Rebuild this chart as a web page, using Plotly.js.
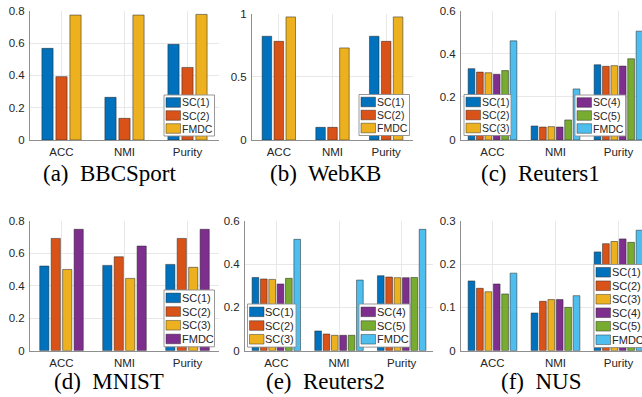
<!DOCTYPE html>
<html><head><meta charset="utf-8">
<script src="https://cdn.plot.ly/plotly-3.0.1.min.js"></script>
<style>html,body{margin:0;padding:0;overflow:hidden;background:#fff;width:642px;height:397px}#chart{width:660px;height:397px}</style>
</head><body><div id="chart"></div>
<script>
// ---------------- data ----------------
const categories = ['ACC', 'NMI', 'Purity'];

const bbcsportNames = ['SC(1)', 'SC(2)', 'FMDC'];
const bbcsportValues = [
  [0.567, 0.264, 0.592],
  [0.392, 0.134, 0.449],
  [0.773, 0.773, 0.777]
];

const webkbNames = ['SC(1)', 'SC(2)', 'FMDC'];
const webkbValues = [
  [0.820, 0.100, 0.820],
  [0.780, 0.100, 0.780],
  [0.973, 0.728, 0.973]
];

const reuters1Names = ['SC(1)', 'SC(2)', 'SC(3)', 'SC(4)', 'SC(5)', 'FMDC'];
const reuters1Values = [
  [0.331, 0.065, 0.349],
  [0.315, 0.060, 0.342],
  [0.312, 0.062, 0.345],
  [0.305, 0.060, 0.343],
  [0.322, 0.093, 0.377],
  [0.460, 0.237, 0.505]
];

const mnistNames = ['SC(1)', 'SC(2)', 'SC(3)', 'FMDC'];
const mnistValues = [
  [0.521, 0.525, 0.531],
  [0.691, 0.578, 0.691],
  [0.500, 0.445, 0.513],
  [0.747, 0.644, 0.747]
];

const reuters2Names = ['SC(1)', 'SC(2)', 'SC(3)', 'SC(4)', 'SC(5)', 'FMDC'];
const reuters2Values = [
  [0.338, 0.091, 0.346],
  [0.331, 0.077, 0.340],
  [0.329, 0.071, 0.337],
  [0.308, 0.071, 0.337],
  [0.334, 0.071, 0.338],
  [0.514, 0.326, 0.560]
];

const nusNames = ['SC(1)', 'SC(2)', 'SC(3)', 'SC(4)', 'SC(5)', 'FMDC'];
const nusValues = [
  [0.161, 0.087, 0.228],
  [0.144, 0.114, 0.247],
  [0.136, 0.118, 0.252],
  [0.154, 0.118, 0.258],
  [0.131, 0.100, 0.250],
  [0.179, 0.127, 0.278]
];

const panelTitles = ['(a)\u00a0 BBCSport', '(b)\u00a0 WebKB', '(c)\u00a0 Reuters1',
                     '(d)\u00a0 MNIST', '(e)\u00a0 Reuters2', '(f)\u00a0 NUS'];

const seriesColors = ['#0072BD', '#D95319', '#EDB120', '#7E2F8E', '#77AC30', '#4DBEEE'];

// ---------------- layout config (pixels) ----------------
const W = 660, H = 397;
const panels = [
  {names: bbcsportNames, values: bbcsportValues, ymax: 0.8, dtick: 0.2, box: [30, 219, 10.7, 140], tx: 110, ty: 173,
   legends: [{items: [0,1,2], left: 164, top: 95, width: 50.5, pitch: 13, fs: 10.5}]},
  {names: webkbNames, values: webkbValues, ymax: 1, dtick: 0.5, box: [252, 413, 13.5, 140], tx: 325, ty: 173,
   legends: [{items: [0,1,2], left: 359, top: 94.5, width: 50.5, pitch: 13, fs: 10.5}]},
  {names: reuters1Names, values: reuters1Values, ymax: 0.6, dtick: 0.2, box: [461, 650, 10.7, 140], tx: 540, ty: 173,
   legends: [{items: [0,1,2], left: 464, top: 94.5, width: 47, pitch: 13, fs: 10.5},
             {items: [3,4,5], left: 575, top: 95, width: 50.7, pitch: 13, fs: 10.5}]},
  {names: mnistNames, values: mnistValues, ymax: 0.8, dtick: 0.2, box: [30, 219, 220.7, 350.7], tx: 109, ty: 381,
   legends: [{items: [0,1,2,3], left: 164, top: 290, width: 50.5, pitch: 13.7, fs: 11}]},
  {names: reuters2Names, values: reuters2Values, ymax: 0.6, dtick: 0.2, box: [245, 433, 220.7, 350.7], tx: 325, ty: 381,
   legends: [{items: [0,1,2], left: 247.5, top: 304, width: 48.5, pitch: 13.7, fs: 11},
             {items: [3,4,5], left: 359, top: 304, width: 51, pitch: 13.7, fs: 11}]},
  {names: nusNames, values: nusValues, ymax: 0.3, dtick: 0.1, box: [461, 650, 220.7, 350.7], tx: 541, ty: 381,
   legends: [{items: [0,1,2,3,4,5], left: 594, top: 264.5, width: 52, pitch: 13.5, fs: 11}]}
];

const tickFont = {family: 'Liberation Sans, Arial, sans-serif', size: 11.5, color: '#262626'};
const titleFont = {family: 'Liberation Serif, Times New Roman, serif', size: 23, color: '#000'};
const gridColor = '#e8e8e8';
const axisLineColor = '#8f8f8f';
const barEdge = {color: 'rgba(40,40,40,0.75)', width: 0.7};

const traces = [];
const layout = {
  width: W, height: H,
  margin: {l: 0, r: 0, t: 0, b: 0},
  paper_bgcolor: '#fff', plot_bgcolor: '#fff',
  showlegend: false,
  barmode: 'overlay',
  shapes: [], annotations: []
};

const px = v => v / W;
const py = v => 1 - v / H;

panels.forEach((p, k) => {
  const sfx = k === 0 ? '' : String(k + 1);
  const n = p.names.length;
  const gw = Math.min(0.8, n / (n + 1.5));
  const slot = gw / n;
  p.values.forEach((vals, i) => {
    traces.push({
      type: 'bar', x: categories, y: vals, name: p.names[i],
      xaxis: 'x' + sfx, yaxis: 'y' + sfx,
      offset: -gw / 2 + i * slot + slot * 0.1,
      width: slot * 0.8,
      marker: {color: seriesColors[i], line: barEdge},
      hoverinfo: 'x+y+name'
    });
  });
  const [l, r, t, b] = p.box;
  layout['xaxis' + sfx] = {
    domain: [px(l), px(r)], anchor: 'y' + sfx, type: 'category',
    range: [-0.5, 2.5], showgrid: true, gridcolor: gridColor, gridwidth: 1,
    showline: true, linecolor: axisLineColor, linewidth: 1, ticks: '',
    tickfont: tickFont, zeroline: false, fixedrange: true, ticklabelstandoff: 1
  };
  layout['yaxis' + sfx] = {
    domain: [py(b), py(t)], anchor: 'x' + sfx,
    range: [0, p.ymax], dtick: p.dtick, tick0: 0,
    showgrid: true, gridcolor: gridColor, gridwidth: 1,
    showline: true, linecolor: axisLineColor, linewidth: 1, ticks: '',
    tickfont: tickFont, zeroline: false, fixedrange: true, ticklabelstandoff: 2
  };
  // title
  layout.annotations.push({
    xref: 'paper', yref: 'paper', x: px(p.tx), y: py(p.ty),
    xanchor: 'center', yanchor: 'middle', showarrow: false, borderpad: 0, borderwidth: 0,
    text: panelTitles[k], font: titleFont
  });
  // legends
  p.legends.forEach(lg => {
    const h = lg.items.length * lg.pitch + 2;
    layout.shapes.push({
      type: 'rect', xref: 'paper', yref: 'paper',
      x0: px(lg.left), x1: px(lg.left + lg.width), y0: py(lg.top + h), y1: py(lg.top),
      fillcolor: '#ffffff', line: {color: '#8c8c8c', width: 0.9}
    });
    lg.items.forEach((idx, j) => {
      const c = lg.top + 1 + lg.pitch * (j + 0.5);
      layout.shapes.push({
        type: 'rect', xref: 'paper', yref: 'paper',
        x0: px(lg.left + 2), x1: px(lg.left + 16.5), y0: py(c + 4.8), y1: py(c - 4.8),
        fillcolor: seriesColors[idx], line: {color: 'rgba(40,40,40,0.75)', width: 0.6}
      });
      layout.annotations.push({
        xref: 'paper', yref: 'paper', x: px(lg.left + 15.5), y: py(c),
        xanchor: 'left', yanchor: 'middle', showarrow: false,
        text: p.names[idx],
        font: {family: 'Liberation Sans, Arial, sans-serif', size: lg.fs, color: '#262626'}
      });
    });
  });
});

Plotly.newPlot('chart', traces, layout, {displayModeBar: false, staticPlot: true});
</script>
</body></html>
